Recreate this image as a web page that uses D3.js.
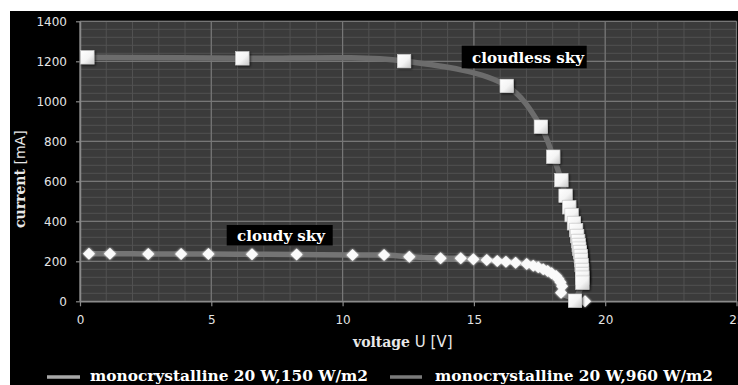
<!DOCTYPE html>
<html>
<head>
<meta charset="utf-8">
<script src="https://cdn.jsdelivr.net/npm/d3@7"></script>
<style>
  html, body { margin: 0; padding: 0; background: #fff; }
  svg { display: block; }
</style>
</head>
<body>
<svg id="chart" width="738" height="385"></svg>
<script>
// I–U curves of a 20 W monocrystalline module at two irradiance levels
const seriesNames = ["monocrystalline 20 W,150 W/m2", "monocrystalline 20 W,960 W/m2"];

// 150 W/m2 (cloudy sky)
const cloudyVoltage = [0.34, 1.14, 2.6, 3.85, 4.89, 6.55, 8.25, 10.38, 11.58, 12.54, 13.73, 14.5, 14.98,
  15.49, 15.89, 16.22, 16.59, 17.01, 17.26, 17.45, 17.64, 17.81, 17.96, 18.13, 18.22, 18.3, 18.36, 18.32, 19.23];
const cloudyCurrent = [238, 238, 237, 236, 236, 235, 234, 232, 231, 223, 215, 215, 210,
  206, 201, 198, 193, 186, 178, 170, 160, 151, 140, 127, 112, 95, 75, 43, 0];

// 960 W/m2 (cloudless sky)
const clearVoltage = [0.28, 6.18, 12.34, 16.25, 17.55, 18.02, 18.33, 18.49, 18.63, 18.72, 18.81, 18.89, 18.93,
  18.97, 18.99, 19.01, 19.04, 19.07, 19.08, 19.1, 19.12, 19.12, 19.13, 19.13, 18.85];
const clearCurrent = [1220, 1215, 1201, 1077, 873, 723, 606, 528, 470, 431, 390, 356, 326,
  301, 281, 263, 245, 226, 206, 181, 156, 135, 118, 93, 3];

const xTicks = [0, 5, 10, 15, 20, 25];
const yTicks = [0, 200, 400, 600, 800, 1000, 1200, 1400];

const svg = d3.select("#chart");

// black chart background
svg.append("rect").attr("x", 10).attr("y", 11).attr("width", 728).attr("height", 374).attr("fill", "#000");

const x = d3.scaleLinear().domain([0, 25]).range([80, 736.5]);
const y = d3.scaleLinear().domain([0, 1400]).range([301.3, 21.3]);

const defs = svg.append("defs");
const grad = defs.append("linearGradient").attr("id", "sqFill").attr("x1", 0).attr("y1", 0).attr("x2", 1).attr("y2", 1);
grad.append("stop").attr("offset", "0%").attr("stop-color", "#ffffff");
grad.append("stop").attr("offset", "55%").attr("stop-color", "#f4f4f4");
grad.append("stop").attr("offset", "100%").attr("stop-color", "#c8c8c8");
const shadow = defs.append("filter").attr("id", "shadow").attr("x", "-50%").attr("y", "-50%").attr("width", "200%").attr("height", "200%");
shadow.append("feDropShadow").attr("dx", 1.2).attr("dy", 1.2).attr("stdDeviation", 1.2).attr("flood-color", "#000").attr("flood-opacity", 0.7);
const glow = defs.append("filter").attr("id", "glow").attr("x", "-60%").attr("y", "-60%").attr("width", "220%").attr("height", "220%");
glow.append("feGaussianBlur").attr("in", "SourceGraphic").attr("stdDeviation", 1.3).attr("result", "b");
const gm = glow.append("feMerge");
gm.append("feMergeNode").attr("in", "b");
gm.append("feMergeNode").attr("in", "SourceGraphic");

// plot area
const x0 = x(0), x1 = x(25), y0 = y(0), y1 = y(1400);
svg.append("rect").attr("x", x0).attr("y", y1).attr("width", x1 - x0).attr("height", y0 - y1).attr("fill", "#3b3b3b");

const grid = svg.append("g");
grid.selectAll(".vmin").data(d3.range(0, 26, 1)).join("line")
  .attr("x1", d => x(d)).attr("x2", d => x(d)).attr("y1", y1).attr("y2", y0)
  .attr("stroke", "#525252").attr("stroke-width", 1);
grid.selectAll(".hmin").data(d3.range(0, 1401, 40)).join("line")
  .attr("y1", d => y(d)).attr("y2", d => y(d)).attr("x1", x0).attr("x2", x1)
  .attr("stroke", "#525252").attr("stroke-width", 1);
grid.selectAll(".vmaj").data(xTicks).join("line")
  .attr("x1", d => x(d)).attr("x2", d => x(d)).attr("y1", y1).attr("y2", y0)
  .attr("stroke", "#777").attr("stroke-width", 1.2);
grid.selectAll(".hmaj").data(yTicks).join("line")
  .attr("y1", d => y(d)).attr("y2", d => y(d)).attr("x1", x0).attr("x2", x1)
  .attr("stroke", "#777").attr("stroke-width", 1.2);

// axes
const tickFont = "'DejaVu Sans', Verdana, sans-serif";
const yAxis = svg.append("g").attr("transform", `translate(${x0},0)`)
  .call(d3.axisLeft(y).tickValues(yTicks).tickFormat(d3.format("d")).tickSize(4).tickPadding(9).tickSizeOuter(0));
const xAxis = svg.append("g").attr("transform", `translate(0,${y0})`)
  .call(d3.axisBottom(x).tickValues(xTicks).tickFormat(d3.format("d")).tickSize(5).tickPadding(9).tickSizeOuter(0));
[yAxis, xAxis].forEach(g => {
  g.selectAll("path.domain").attr("stroke", "#8a8a8a").attr("stroke-width", 1.5);
  g.selectAll(".tick line").attr("stroke", "#8a8a8a").attr("stroke-width", 1.2);
  g.selectAll(".tick text").attr("fill", "#e4e4e4").attr("font-family", tickFont).attr("font-size", 12);
});

// curves
const line = d3.line().x(d => x(d[0])).y(d => y(d[1])).curve(d3.curveCatmullRom.alpha(0.5));
const cloudy = cloudyVoltage.map((v, i) => [v, cloudyCurrent[i]]);
const clear = clearVoltage.map((v, i) => [v, clearCurrent[i]]);

svg.append("path").datum(cloudy).attr("d", line).attr("fill", "none")
  .attr("stroke", "#747474").attr("stroke-width", 5.5).attr("stroke-linejoin", "round");
svg.append("path").datum(clear).attr("d", line).attr("fill", "none")
  .attr("stroke", "#6c6c6c").attr("stroke-width", 5.5).attr("stroke-linejoin", "round");

// markers
svg.append("g").selectAll("path").data(cloudy).join("path")
  .attr("transform", d => `translate(${x(d[0])},${y(d[1])})`)
  .attr("d", "M0,-6L6,0L0,6L-6,0Z")
  .attr("fill", "#fafafa").attr("filter", "url(#glow)");
svg.append("g").selectAll("rect").data(clear).join("rect")
  .attr("x", d => x(d[0]) - 6.7).attr("y", d => y(d[1]) - 6.7)
  .attr("width", 13.4).attr("height", 13.4)
  .attr("fill", "url(#sqFill)").attr("stroke", "#d0d0d0").attr("stroke-width", 0.6)
  .attr("filter", "url(#shadow)");

// annotations
const serif = "'DejaVu Serif', 'Liberation Serif', serif";
const notes = [
  { text: "cloudless sky", bx: 461.7, by: 45.7, bw: 125, bh: 22.6, tx: 472, ty: 62.5, tl: 112 },
  { text: "cloudy sky", bx: 226.7, by: 225, bw: 106, bh: 20.5, tx: 237, ty: 240.5, tl: 88 }
];
const ng = svg.append("g").selectAll("g").data(notes).join("g");
ng.append("rect").attr("x", d => d.bx).attr("y", d => d.by).attr("width", d => d.bw).attr("height", d => d.bh).attr("fill", "#000");
ng.append("text").attr("x", d => d.tx).attr("y", d => d.ty).text(d => d.text)
  .attr("fill", "#fff").attr("font-family", serif).attr("font-weight", "bold").attr("font-size", 14)
  .attr("textLength", d => d.tl).attr("lengthAdjust", "spacingAndGlyphs");

// axis titles
const xt = svg.append("text").attr("x", 353).attr("y", 347).attr("fill", "#e8e8e8").attr("font-size", 14);
xt.append("tspan").text("voltage").attr("font-family", serif).attr("font-weight", "bold");
xt.append("tspan").text(" U [V]").attr("font-family", tickFont).attr("font-size", 15);

const yt = svg.append("text").attr("transform", "translate(25,228) rotate(-90)").attr("fill", "#e8e8e8").attr("font-size", 14);
yt.append("tspan").text("current").attr("font-family", serif).attr("font-weight", "bold");
yt.append("tspan").text(" [mA]").attr("font-family", tickFont).attr("font-size", 14);

// legend
const legend = [
  { name: seriesNames[0], sx: 47, ex: 80, color: "#a8a8a8", tx: 90 },
  { name: seriesNames[1], sx: 390, ex: 422, color: "#7a7a7a", tx: 435 }
];
const lg = svg.append("g").selectAll("g").data(legend).join("g");
lg.append("line").attr("x1", d => d.sx).attr("x2", d => d.ex).attr("y1", 377).attr("y2", 377)
  .attr("stroke", d => d.color).attr("stroke-width", 3.5);
lg.append("text").attr("x", d => d.tx).attr("y", 381).text(d => d.name)
  .attr("fill", "#fff").attr("font-family", serif).attr("font-weight", "bold").attr("font-size", 15)
  .attr("textLength", 278).attr("lengthAdjust", "spacingAndGlyphs");
</script>
</body>
</html>
